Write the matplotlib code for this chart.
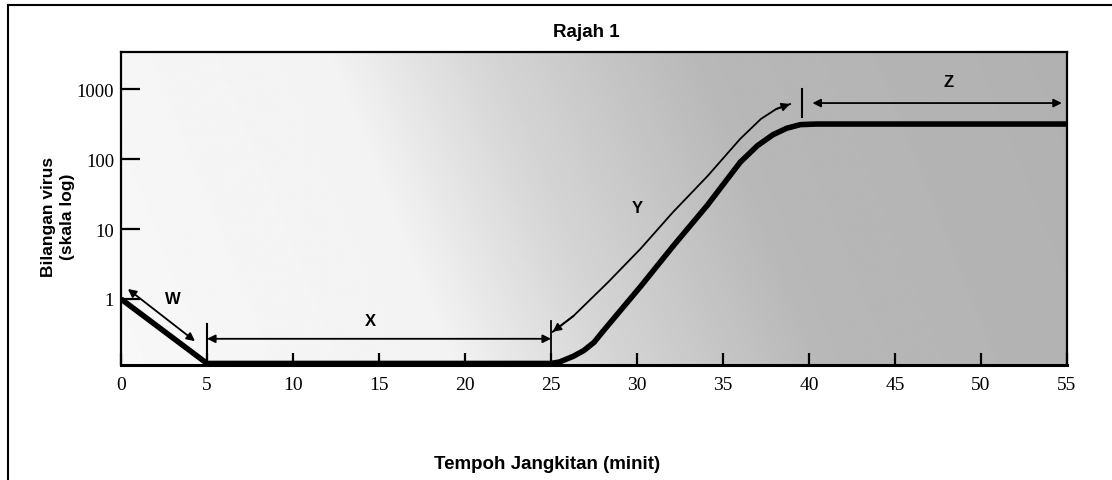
import numpy as np
import matplotlib.pyplot as plt
from matplotlib.lines import Line2D

# data
time_min = [0, 5, 25, 25.5, 26.3, 26.9, 27.5, 28.0, 28.6, 30.2, 32.1, 34.1,
            36.0, 37.0, 37.9, 38.7, 39.5, 40.4, 55]
virus = [1, 0.12, 0.12, 0.126, 0.152, 0.183, 0.24, 0.34, 0.51, 1.5, 5.7, 22,
         90, 155, 222, 275, 310, 316, 316]

# curved arrow Y, drawn beside the rising part
y_arrow_t = [25.1, 26.3, 28.3, 30.2, 32.1, 34.1, 36.0, 37.2, 38.1, 38.9]
y_arrow_v = [0.34, 0.57, 1.72, 5.2, 17.5, 57, 194, 373, 519, 610]

x_ticks = [0, 5, 10, 15, 20, 25, 30, 35, 40, 45, 50, 55]
y_ticks = [1, 10, 100, 1000]
y_tick_labels = ['1', '10', '100', '1000']

phase_labels = ['W', 'X', 'Y', 'Z']
phase_label_t = [3.0, 14.5, 30.0, 48.1]
phase_label_v = [1.0, 0.49, 20.6, 1260]

serif = ['Liberation Serif', 'DejaVu Serif']
sans = ['Liberation Sans', 'DejaVu Sans']

fig = plt.figure(figsize=(11.12, 4.81), dpi=100)
ax = fig.add_axes([121 / 1112, 115 / 481, 946 / 1112, 313 / 481])

# shaded background, light on the left, darker to the right
u = np.linspace(0, 1, 400)
v = np.linspace(0, 1, 200)
U, V = np.meshgrid(u, v)
t = -4 + 946 * U + 125 * V
dark = np.interp(t, [0, 330, 480, 700, 1100], [0.03, 0.05, 0.16, 0.28, 0.31])
ax.imshow(1 - dark, cmap='gray', vmin=0, vmax=1, origin='lower',
          extent=[0, 1, 0, 1], transform=ax.transAxes, aspect='auto',
          zorder=0, interpolation='bilinear')

ax.set_yscale('log')
ax.set_xlim(0, 55)
ax.set_ylim(0.114, 3380)

# main curve
ax.plot(time_min, virus, color='black', lw=4, solid_capstyle='butt',
        solid_joinstyle='round', zorder=5)

arr = dict(arrowstyle='<|-|>', color='black', lw=1.3, mutation_scale=12,
           shrinkA=0, shrinkB=0)
one = dict(arrowstyle='-|>', color='black', lw=1.3, mutation_scale=12,
           shrinkA=0, shrinkB=0)

# W
ax.annotate('', xy=(4.3, 0.25), xytext=(0.4, 1.39), arrowprops=arr, zorder=6)
# X
ax.annotate('', xy=(25, 0.27), xytext=(5, 0.27), arrowprops=arr, zorder=6)
ax.plot([5, 5], [0.114, 0.44], color='black', lw=1.5, zorder=6)
ax.plot([25, 25], [0.114, 0.49], color='black', lw=1.3, zorder=6)
# Y
ax.plot(y_arrow_t, y_arrow_v, color='black', lw=1.3, zorder=6,
        solid_joinstyle='round')
ax.annotate('', xy=(y_arrow_t[0], y_arrow_v[0]),
            xytext=(y_arrow_t[1], y_arrow_v[1]), arrowprops=one, zorder=6)
ax.annotate('', xy=(y_arrow_t[-1], y_arrow_v[-1]),
            xytext=(y_arrow_t[-2], y_arrow_v[-2]), arrowprops=one, zorder=6)
ax.plot([39.6, 39.6], [400, 1000], color='black', lw=1.5, zorder=6)
# Z
ax.annotate('', xy=(54.7, 630), xytext=(40.2, 630), arrowprops=arr, zorder=6)

for lab, tx, vy in zip(phase_labels, phase_label_t, phase_label_v):
    ax.text(tx, vy, lab, ha='center', va='center', fontsize=12,
            fontweight='bold', family=sans, zorder=7)

# axes and ticks
ax.set_xticks(x_ticks)
ax.set_xticklabels([str(x) for x in x_ticks], family=serif, fontsize=14)
ax.set_yticks(y_ticks)
ax.set_yticklabels(y_tick_labels, family=serif, fontsize=13.5)
ax.minorticks_off()
ax.tick_params(axis='x', direction='in', length=9, width=1.6, pad=8)
ax.tick_params(axis='y', direction='in', length=14, width=1.6, pad=5)
for side in ['left', 'right', 'top']:
    ax.spines[side].set_linewidth(1.6)
ax.spines['bottom'].set_linewidth(2.2)

fig.text(586 / 1112, 1 - 33 / 481, 'Rajah 1', ha='center', va='center',
         fontsize=13.5, fontweight='bold', family=sans)
fig.text(547 / 1112, 1 - 465 / 481, 'Tempoh Jangkitan (minit)', ha='center',
         va='center', fontsize=13.5, fontweight='bold', family=sans)
fig.text(58 / 1112, 1 - 217 / 481, 'Bilangan virus\n(skala log)', ha='center',
         va='center', rotation=90, fontsize=12.5, fontweight='bold',
         family=sans, linespacing=1.35)

# outer frame (top and left edges only are visible)
fig.add_artist(Line2D([8 / 1112, 1], [1 - 6 / 481, 1 - 6 / 481],
                      color='black', lw=1.5))
fig.add_artist(Line2D([8 / 1112, 8 / 1112], [0, 1 - 6 / 481],
                      color='black', lw=1.5))

fig.savefig('out.png', dpi=100)
